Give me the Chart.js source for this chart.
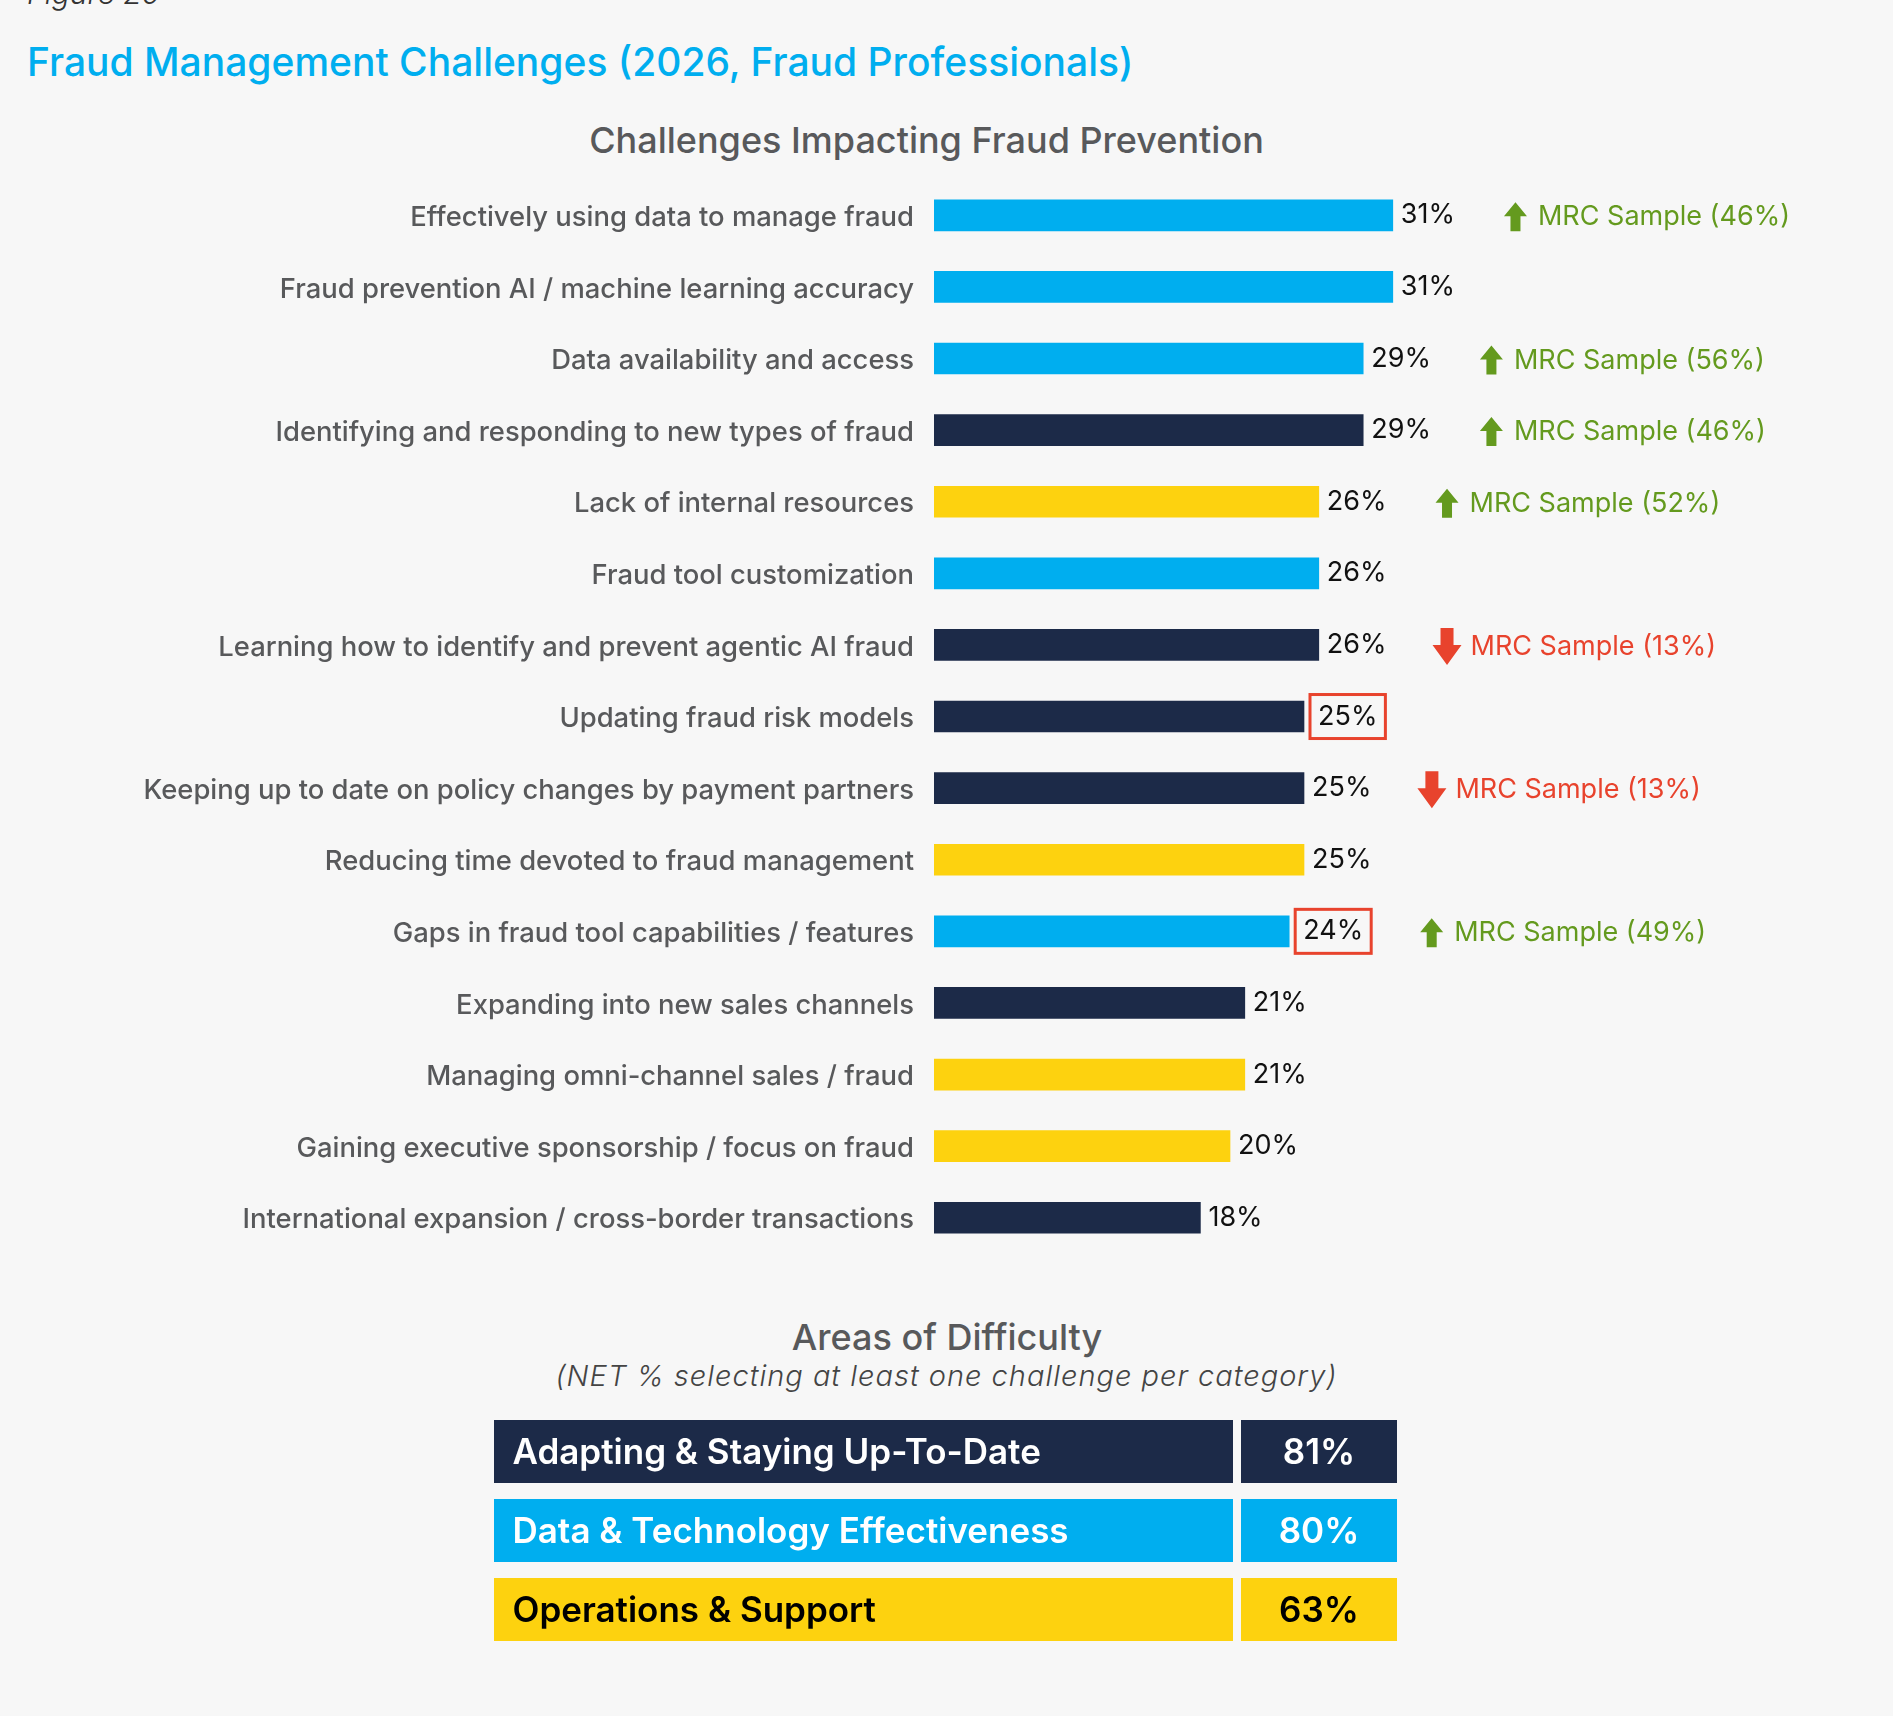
<!DOCTYPE html>
<html lang="en">
  <head>
    <meta charset="UTF-8" />
    <title>Fraud Management Challenges (2026, Fraud Professionals)</title>
    <style>
      body { margin: 0; background: #f7f7f7; font-family: Inter, sans-serif; }
      .page { position: relative; width: 1893px; height: 1716px; overflow: hidden; }
      .txt { position: absolute; margin: 0; line-height: 1; white-space: nowrap; }
      .fig { left: 27px; top: -22px; font-size: 30px; font-style: italic; font-weight: 300; color: #333; }
      .title { left: 27px; top: 42px; font-size: 39px; font-weight: 500; color: #00aeef; }
      .sub { left: 0; width: 1853px; top: 122px; text-align: center; font-size: 36px; font-weight: 500; color: #58595b; }
      .areas { left: 0; width: 1894px; top: 1319px; text-align: center; font-size: 36px; font-weight: 500; color: #58595b; }
      .note { left: 0; width: 1893px; top: 1361px; text-align: center; font-size: 29px; font-style: italic; font-weight: 300; letter-spacing: 1px; color: #444; }
      #main { position: absolute; left: 0; top: 0; }
      #areas { position: absolute; left: 494px; top: 1412px; }
    </style>
  </head>
  <body>
    <div class="page">
      <p class="txt fig">Figure 20</p>
      <h1 class="txt title">Fraud Management Challenges (2026, Fraud Professionals)</h1>
      <h2 class="txt sub">Challenges Impacting Fraud Prevention</h2>
      <h2 class="txt areas">Areas of Difficulty</h2>
      <p class="txt note">(NET % selecting at least one challenge per category)</p>
      <canvas id="main" width="1893" height="1290"></canvas>
      <canvas id="areas" width="903" height="237"></canvas>
    </div>

    <script src="https://cdn.jsdelivr.net/npm/chart.js"></script>
    <script>
      // challenges, % of fraud professionals
      const categories = [
        "Effectively using data to manage fraud",
        "Fraud prevention AI / machine learning accuracy",
        "Data availability and access",
        "Identifying and responding to new types of fraud",
        "Lack of internal resources",
        "Fraud tool customization",
        "Learning how to identify and prevent agentic AI fraud",
        "Updating fraud risk models",
        "Keeping up to date on policy changes by payment partners",
        "Reducing time devoted to fraud management",
        "Gaps in fraud tool capabilities / features",
        "Expanding into new sales channels",
        "Managing omni-channel sales / fraud",
        "Gaining executive sponsorship / focus on fraud",
        "International expansion / cross-border transactions",
      ];
      const values = [31, 31, 29, 29, 26, 26, 26, 25, 25, 25, 24, 21, 21, 20, 18];
      const groups = ["data", "data", "data", "adapt", "ops", "data", "adapt", "adapt", "adapt", "ops", "data", "adapt", "ops", "ops", "adapt"];
      // MRC sample comparison (null = no callout)
      const mrcSample = [46, null, 56, 46, 52, null, 13, null, 13, null, 49, null, null, null, null];
      const highlighted = [7, 10];

      // areas of difficulty
      const areas = ["Adapting & Staying Up-To-Date", "Data & Technology Effectiveness", "Operations & Support"];
      const areaValues = [81, 80, 63];
      const areaGroups = ["adapt", "data", "ops"];

      const groupColors = { adapt: "#1c2a48", data: "#00aeef", ops: "#fdd20f" };
      const green = "#649a1e";
      const red = "#e8432d";

      function drawArrow(ctx, left, cy, up, color) {
        const w = up ? 23 : 29;
        const h = up ? 29 : 37;
        const head = up ? 14 : 20;
        const shaft = up ? 10 : 13;
        const cx = left + w / 2;
        const top = cy - h / 2;
        const bot = cy + h / 2;
        ctx.fillStyle = color;
        ctx.beginPath();
        if (up) {
          ctx.moveTo(cx, top);
          ctx.lineTo(left + w, top + head);
          ctx.lineTo(cx + shaft / 2, top + head);
          ctx.lineTo(cx + shaft / 2, bot);
          ctx.lineTo(cx - shaft / 2, bot);
          ctx.lineTo(cx - shaft / 2, top + head);
          ctx.lineTo(left, top + head);
        } else {
          ctx.moveTo(cx, bot);
          ctx.lineTo(left + w, bot - head);
          ctx.lineTo(cx + shaft / 2, bot - head);
          ctx.lineTo(cx + shaft / 2, top);
          ctx.lineTo(cx - shaft / 2, top);
          ctx.lineTo(cx - shaft / 2, bot - head);
          ctx.lineTo(left, bot - head);
        }
        ctx.closePath();
        ctx.fill();
      }

      const barNotes = {
        id: "barNotes",
        afterDatasetsDraw(chart) {
          const ctx = chart.ctx;
          ctx.save();
          ctx.textBaseline = "middle";
          ctx.textAlign = "left";
          chart.getDatasetMeta(0).data.forEach((bar, i) => {
            const v = values[i];
            const boxed = highlighted.includes(i);
            const label = v + "%";
            ctx.font = "400 27px Inter";
            const w = ctx.measureText(label).width;
            const tx = bar.x + (boxed ? 14 : 8);
            ctx.fillStyle = "#111";
            ctx.fillText(label, tx, bar.y);
            let end = tx + w;
            if (boxed) {
              ctx.strokeStyle = red;
              ctx.lineWidth = 3;
              ctx.strokeRect(bar.x + 6, bar.y - 22, w + 16, 44);
              end = bar.x + 6 + w + 16;
            }
            const m = mrcSample[i];
            if (m !== null) {
              const up = m > v;
              const color = up ? green : red;
              const ax = end + (up ? 49 : 46);
              drawArrow(ctx, ax, bar.y + 1.5, up, color);
              ctx.fillStyle = color;
              ctx.font = "400 27px Inter";
              ctx.fillText("MRC Sample (" + m + "%)", ax + (up ? 34 : 38), bar.y + 2);
            }
          });
          ctx.restore();
        },
      };

      new Chart(document.getElementById("main"), {
        type: "bar",
        data: {
          labels: categories,
          datasets: [
            {
              data: values,
              backgroundColor: groups.map((g) => groupColors[g]),
              barThickness: 31,
              borderWidth: 0,
            },
          ],
        },
        options: {
          indexAxis: "y",
          responsive: false,
          animation: false,
          layout: { padding: { top: 179.5, bottom: 35.5, left: 0, right: 71 } },
          plugins: { legend: { display: false }, tooltip: { enabled: false } },
          scales: {
            x: { display: false, min: 0, max: 60 },
            y: {
              grid: { display: false, drawTicks: false },
              border: { display: false },
              ticks: {
                padding: 20,
                labelOffset: 2.5,
                color: "#58595b",
                font: { family: "Inter", size: 27.4, weight: "500" },
              },
              afterFit: (scale) => {
                scale.width = 934;
              },
            },
          },
        },
        plugins: [barNotes],
      });

      // table of areas: a name cell and a value cell per row
      const nameCell = [0, 739];
      const valueCell = [747, 903];

      const cellText = {
        id: "cellText",
        afterDatasetsDraw(chart) {
          const ctx = chart.ctx;
          const names = chart.getDatasetMeta(0).data;
          const vals = chart.getDatasetMeta(1).data;
          ctx.save();
          ctx.textBaseline = "middle";
          ctx.font = "600 35px Inter";
          areas.forEach((name, i) => {
            ctx.fillStyle = areaGroups[i] === "ops" ? "#000" : "#fff";
            ctx.textAlign = "left";
            ctx.fillText(name, names[i].base + 18.5, names[i].y + 2);
            ctx.textAlign = "center";
            ctx.fillText(areaValues[i] + "%", (vals[i].base + vals[i].x) / 2, vals[i].y + 2);
          });
          ctx.restore();
        },
      };

      new Chart(document.getElementById("areas"), {
        type: "bar",
        data: {
          labels: areas,
          datasets: [
            {
              data: areas.map(() => nameCell),
              backgroundColor: areaGroups.map((g) => groupColors[g]),
              grouped: false,
              borderWidth: 0,
            },
            {
              data: areas.map(() => valueCell),
              backgroundColor: areaGroups.map((g) => groupColors[g]),
              grouped: false,
              borderWidth: 0,
            },
          ],
        },
        options: {
          indexAxis: "y",
          responsive: false,
          animation: false,
          categoryPercentage: 1,
          barPercentage: 63 / 79,
          layout: { padding: 0 },
          plugins: { legend: { display: false }, tooltip: { enabled: false } },
          scales: {
            x: { display: false, min: 0, max: 903 },
            y: { display: false },
          },
        },
        plugins: [cellText],
      });
    </script>
  </body>
</html>
